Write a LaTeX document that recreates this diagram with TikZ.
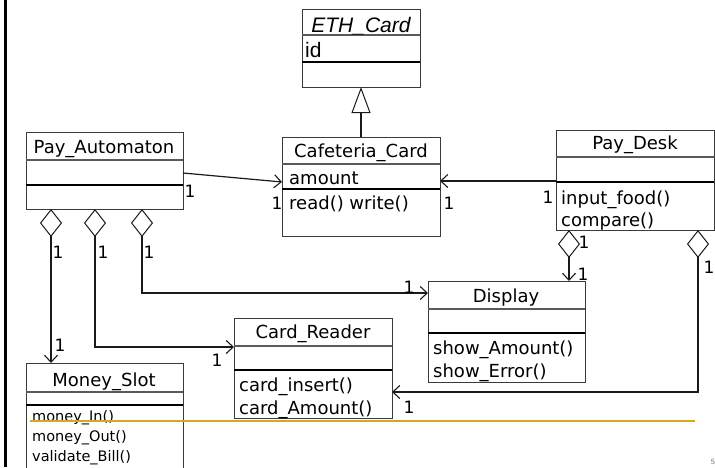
\documentclass[tikz,border=0pt]{standalone}
\usepackage{fontspec}
\usetikzlibrary{arrows.meta}
\newfontfamily\comic{DejaVu Sans}
\newfontfamily\arialf{Liberation Sans}
\definecolor{linecol}{HTML}{1A1A1A}
\definecolor{boxcol}{HTML}{3A3A3A}
\definecolor{sepcol}{HTML}{5A5A5A}
\definecolor{slideline}{HTML}{D6A81C}
\definecolor{pagenum}{HTML}{707070}
\tikzset{
  clsbox/.style={draw=boxcol, line width=0.9pt, fill=white, inner sep=0pt, outer sep=0pt, rectangle},
  sepname/.style={draw=sepcol, line width=1.2pt},
  sepattr/.style={draw=black, line width=2pt},
  txt/.style={inner sep=0pt, font=\comic\fontsize{18}{20}\selectfont, text=black},
  smalltxt/.style={inner sep=0pt, font=\comic\fontsize{14.5}{16}\selectfont, text=black},
  ethtxt/.style={inner sep=0pt, font=\arialf\fontsize{21}{23}\selectfont, text=black},
  mult/.style={inner sep=0pt, font=\comic\fontsize{17}{19}\selectfont, text=black},
  assoc/.style={draw=linecol, line width=1.2pt, -{Straight Barb[length=7pt,width=13pt,line width=1.1pt]}},
  aggr/.style={draw=linecol, line width=1.2pt, {Diamond[open,length=28pt,width=22pt,line width=1pt]}-{Straight Barb[length=7pt,width=13pt,line width=1.1pt]}},
  aggrplain/.style={draw=linecol, line width=1.2pt, {Diamond[open,length=28pt,width=22pt,line width=1pt]}-{Straight Barb[length=7pt,width=13pt,line width=1.1pt]}},
  gener/.style={draw=linecol, line width=1.1pt, -{Triangle[open,length=26pt,width=19pt,line width=1pt]}},
}
\newcommand{\umlcls}[7]{%
  \node[clsbox, anchor=north west, minimum width={(#4-#2)*1pt}, minimum height={(#5-#3)*1pt}] (#1) at (#2,#3) {};
  \draw[sepname] (#1.west |- 0,#6) -- (#1.east |- 0,#6);
  \draw[sepattr] (#1.west |- 0,#7) -- (#1.east |- 0,#7);
}
\begin{document}
\begin{tikzpicture}[x=1pt,y=-1pt]
\useasboundingbox (0,0) rectangle (715,467);
\clip (0,0) rectangle (715,467);
\fill[white] (0,0) rectangle (715,467);
% left border
\draw[black, line width=3pt] (5,0) coordinate (lb1) -- (5,467) coordinate (lb2);

% classes
\umlcls{eth}{302}{9}{420}{87}{35}{62}
\node[ethtxt, anchor=base] (ethname) at (361,32) {\itshape ETH\_Card};
\node[ethtxt, anchor=base west] (ethid) at (305,57) {id};

\umlcls{cc}{282}{137}{440}{236}{164}{189}
\node[txt, anchor=base] (ccname) at (361,157) {Cafeteria\_Card};
\node[txt, anchor=base west] (ccattr) at (289,184) {amount};
\node[txt, anchor=base west] (ccmeth) at (289,209) {read() write()};

\umlcls{pa}{26}{132}{183}{209}{160}{185}
\node[txt, anchor=base] (paname) at (104,153) {Pay\_Automaton};

\umlcls{pd}{556}{130}{714}{230}{157}{182}
\node[txt, anchor=base] (pdname) at (635,149) {Pay\_Desk};
\node[txt, anchor=base west] (pdm1) at (561,204) {input\_food()};
\node[txt, anchor=base west] (pdm2) at (561,226) {compare()};

\umlcls{dp}{428}{281}{585}{382}{309}{333}
\node[txt, anchor=base] (dpname) at (506,302) {Display};
\node[txt, anchor=base west] (dpm1) at (433,354) {show\_Amount()};
\node[txt, anchor=base west] (dpm2) at (433,377) {show\_Error()};

\umlcls{cr}{234}{318}{392}{418}{346}{370}
\node[txt, anchor=base] (crname) at (313,338) {Card\_Reader};
\node[txt, anchor=base west] (crm1) at (239,391) {card\_insert()};
\node[txt, anchor=base west] (crm2) at (239,414) {card\_Amount()};

\umlcls{ms}{26}{363}{183}{490}{392}{405}
\node[txt, anchor=base] (msname) at (104,386) {Money\_Slot};
\node[smalltxt, anchor=base west] (msm1) at (32,421) {money\_In()};
\node[smalltxt, anchor=base west] (msm2) at (32,441) {money\_Out()};
\node[smalltxt, anchor=base west] (msm3) at (32,461) {validate\_Bill()};

% connectors
\draw[gener] (cc.north -| 361,0) -- (eth.south -| 361,0);
\draw[assoc] (pa.east |- 0,173) -- (cc.west |- 0,182);
\draw[assoc] (pd.west |- 0,181) -- (cc.east |- 0,181);
\draw[aggr] (pa.south -| 51,0) -- (ms.north -| 51,0);
\draw[aggr] (pa.south -| 95,0) |- (cr.west |- 0,347);
\draw[aggr] (pa.south -| 142,0) |- (dp.west |- 0,293);
\draw[aggr] (pd.south -| 569,0) -- (dp.north -| 569,0);
\draw[aggr] (pd.south -| 698,0) |- (cr.east |- 0,392);

% multiplicities
\node[mult] (m1) at (190,191) {1};
\node[mult] (m2) at (277,203) {1};
\node[mult] (m3) at (449,203) {1};
\node[mult] (m4) at (548,197) {1};
\node[mult] (m5) at (58,252) {1};
\node[mult] (m6) at (103,252) {1};
\node[mult] (m7) at (149,252) {1};
\node[mult] (m8) at (60,345) {1};
\node[mult] (m9) at (217,360) {1};
\node[mult] (m10) at (409,287) {1};
\node[mult] (m11) at (584,242) {1};
\node[mult] (m12) at (583,274) {1};
\node[mult] (m13) at (709,267) {1};
\node[mult] (m14) at (409,407) {1};

% slide decoration
\draw[slideline, line width=2pt] (30,421) coordinate (sl1) -- (695,421) coordinate (sl2);
\node[inner sep=0pt, font=\sffamily\fontsize{8}{9}\selectfont, text=pagenum] (pg) at (713,462) {5};
\end{tikzpicture}
\end{document}
